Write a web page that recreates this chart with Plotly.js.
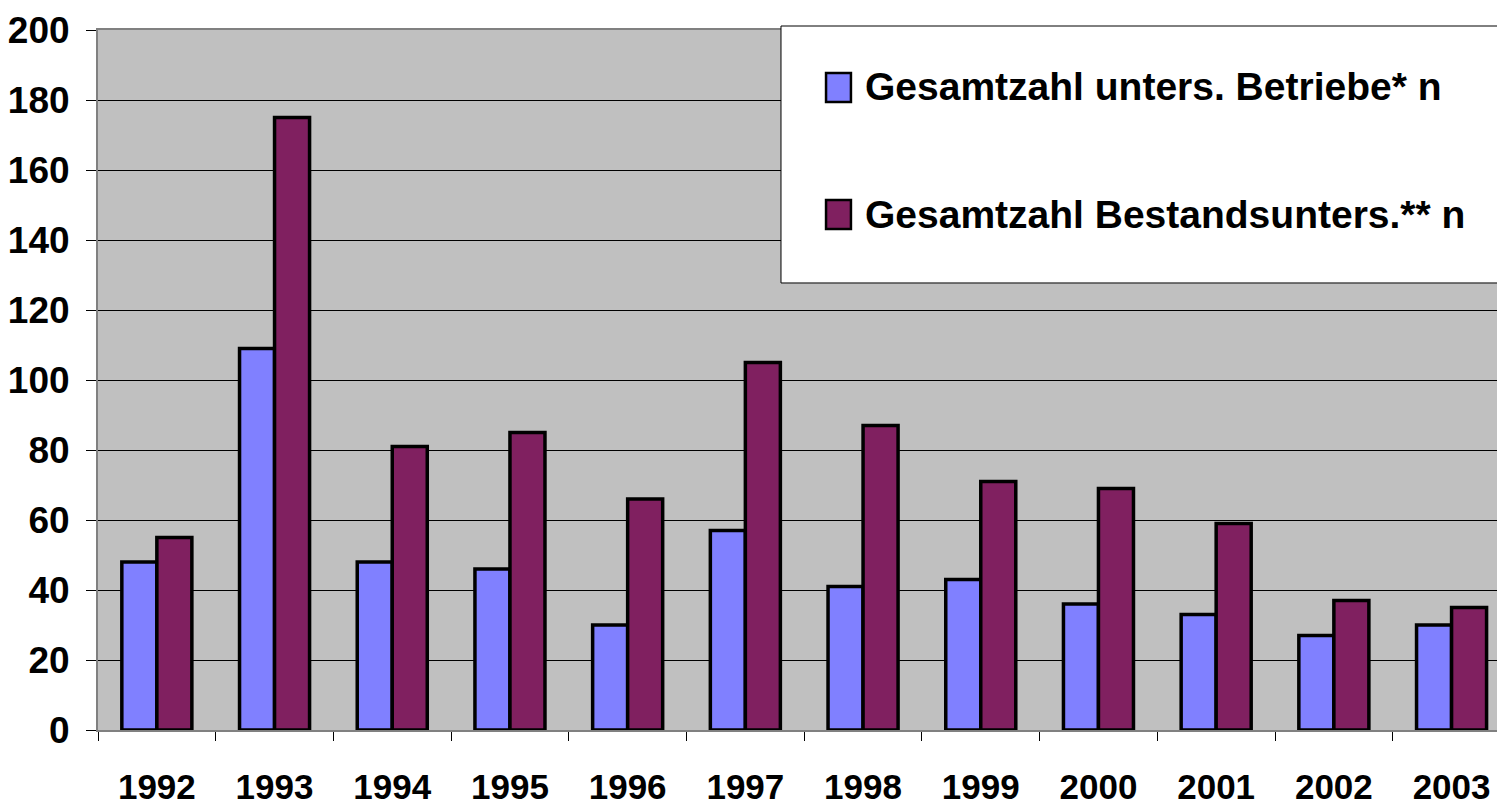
<!DOCTYPE html>
<html>
<head>
<meta charset="utf-8">
<script src="https://cdn.plot.ly/plotly-3.0.1.min.js"></script>
<style>
  html, body { margin: 0; padding: 0; background: #fff; overflow: hidden; }
  #chart { width: 1497px; height: 806px; }
</style>
</head>
<body>
<div id="chart"></div>
<script>
// ---- data ----
const years = ["1992","1993","1994","1995","1996","1997","1998","1999","2000","2001","2002","2003"];
const betriebe = [48, 109, 48, 46, 30, 57, 41, 43, 36, 33, 27, 30];
const bestandsunters = [55, 175, 81, 85, 66, 105, 87, 71, 69, 59, 37, 35];
const seriesNames = ["Gesamtzahl unters. Betriebe* n", "Gesamtzahl Bestandsunters.** n"];
const seriesColors = ["#8080FF", "#802060"];
const yTicks = [0, 20, 40, 60, 80, 100, 120, 140, 160, 180, 200];

const FONT = 'Arial, "Liberation Sans", sans-serif';

const traces = [betriebe, bestandsunters].map((vals, i) => ({
  type: 'bar',
  name: seriesNames[i],
  x: years,
  y: vals,
  marker: { color: seriesColors[i], line: { color: '#000000', width: 3.5 } },
  hoverinfo: 'x+y+name'
}));

// custom legend (box, swatches, labels)
const legendShapes = [{
  type: 'rect', xref: 'paper', yref: 'paper', layer: 'above',
  x0: 0.4882, x1: 1.02, y0: 0.6386, y1: 1.0057,
  fillcolor: '#FFFFFF', line: { color: '#000000', width: 1 }
}];
const swatchY = [[0.8971, 0.9386], [0.7157, 0.7571]];
const textY = [0.919, 0.737];
const legendAnn = [];
seriesNames.forEach((nm, i) => {
  legendShapes.push({
    type: 'rect', xref: 'paper', yref: 'paper', layer: 'above',
    x0: 0.5204, x1: 0.5382, y0: swatchY[i][0], y1: swatchY[i][1],
    fillcolor: seriesColors[i], line: { color: '#000000', width: 2.5 }
  });
  legendAnn.push({
    xref: 'paper', yref: 'paper', x: 0.5468, y: textY[i],
    xanchor: 'left', yanchor: 'middle', showarrow: false,
    text: '<b>' + nm + '</b>',
    font: { family: FONT, size: 39, color: '#000000' }
  });
});

const layout = {
  width: 1497, height: 806,
  margin: { l: 98, r: 0, t: 30, b: 76 },
  paper_bgcolor: '#FFFFFF',
  plot_bgcolor: '#C0C0C0',
  showlegend: false,
  barmode: 'group',
  bargap: 0.405,
  bargroupgap: 0,
  font: { family: FONT, color: '#000000' },
  xaxis: {
    type: 'category',
    range: [-0.5, 11.386],
    tickson: 'boundaries',
    ticks: 'outside', ticklen: 9, tickwidth: 1, tickcolor: '#000000',
    showline: true, linecolor: '#808080', linewidth: 2, mirror: true,
    showgrid: false,
    tickfont: { family: FONT, size: 35, color: '#000000', weight: 'bold' },
    ticklabelstandoff: 25
  },
  yaxis: {
    range: [0, 200],
    tickmode: 'array', tickvals: yTicks, ticktext: yTicks.map(String),
    ticks: 'outside', ticklen: 10, tickwidth: 1, tickcolor: '#000000',
    showline: true, linecolor: '#808080', linewidth: 2,
    showgrid: true, gridcolor: '#000000', gridwidth: 1,
    zeroline: false,
    tickfont: { family: FONT, size: 37, color: '#000000', weight: 'bold' },
    ticklabelstandoff: 9
  },
  shapes: legendShapes,
  annotations: legendAnn
};

Plotly.newPlot('chart', traces, layout, { displayModeBar: false, staticPlot: true });
</script>
</body>
</html>
